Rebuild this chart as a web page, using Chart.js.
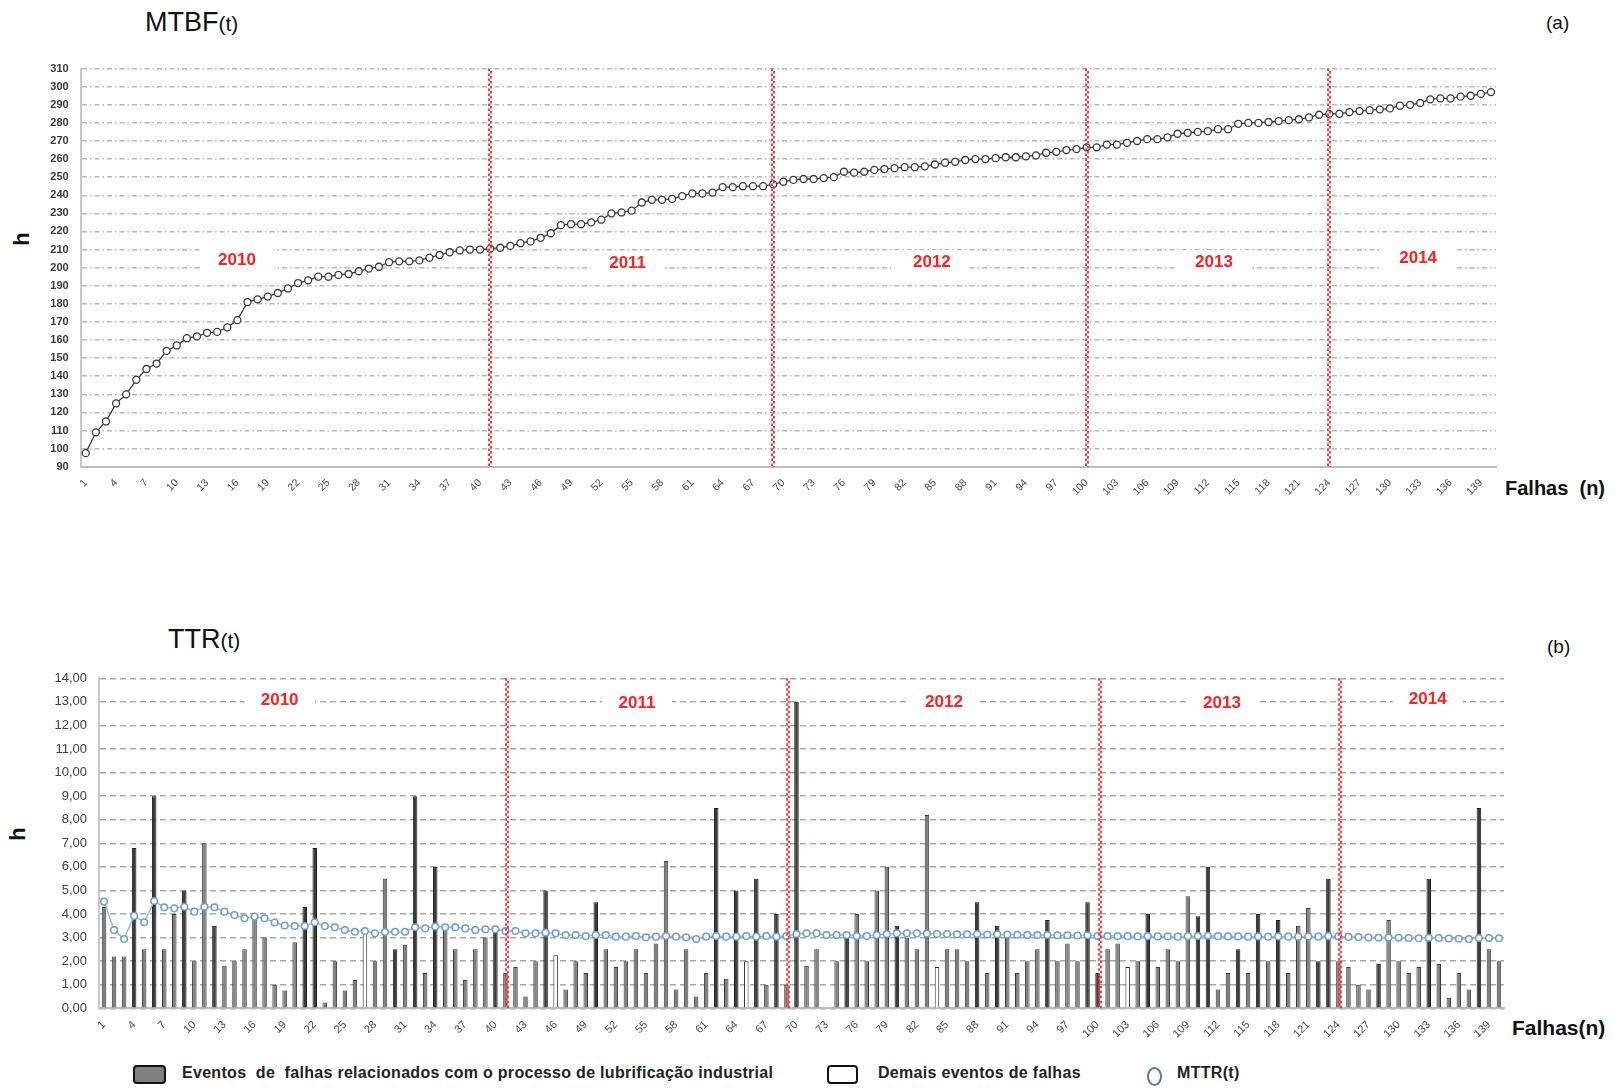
<!DOCTYPE html>
<html>
<head>
<meta charset="utf-8">
<script src="https://cdn.jsdelivr.net/npm/chart.js@4.4.1/dist/chart.umd.min.js"></script>
<style>
  body { margin: 0; background: #fff; width: 1623px; height: 1088px; position: relative; overflow: hidden;
         font-family: "Liberation Sans", Arial, sans-serif; color: #111; }
  .abs { position: absolute; white-space: nowrap; line-height: 1; }
  #grafMtbf { position: absolute; left: 0; top: 50px; }
  #grafTtr { position: absolute; left: 0; top: 640px; }
  .titulo { font-size: 27px; }
  .titulo small { font-size: 21px; }
  .letra { font-size: 19px; }
  .eixoH { font-size: 22px; font-weight: bold; transform: rotate(-90deg); }
  .eixoX { font-weight: bold; }
  .leg { font-size: 16px; font-weight: bold; color: #222; letter-spacing: 0.3px; }
  .caixa { position: absolute; border: 2px solid #111; border-radius: 4px; }
</style>
</head>
<body>
<div class="abs titulo" style="left:145px; top:9px;">MTBF<small>(t)</small></div>
<div class="abs letra" style="left:1546px; top:13px;">(a)</div>
<div class="abs eixoH" style="left:15px; top:228px;">h</div>
<div class="abs eixoX" style="left:1505px; top:478px; font-size:20px;">Falhas&nbsp; (n)</div>
<canvas id="grafMtbf" width="1623" height="470"></canvas>

<div class="abs titulo" style="left:168px; top:626px;">TTR<small>(t)</small></div>
<div class="abs letra" style="left:1547px; top:637px;">(b)</div>
<div class="abs eixoH" style="left:11px; top:823px;">h</div>
<div class="abs eixoX" style="left:1512px; top:1017px; font-size:21px;">Falhas(n)</div>
<canvas id="grafTtr" width="1623" height="420"></canvas>

<div class="caixa" style="left:133px; top:1065px; width:29px; height:15px; background:#808080;"></div>
<div class="abs leg" style="left:182px; top:1065px;">Eventos&nbsp; de&nbsp; falhas relacionados com o processo de lubrificação industrial</div>
<div class="caixa" style="left:827px; top:1065px; width:27px; height:15px; background:#fff;"></div>
<div class="abs leg" style="left:878px; top:1065px;">Demais eventos de falhas</div>
<div class="abs" style="left:1147px; top:1067px; width:11px; height:15px; border:2.5px solid #4a7ebb; border-radius:50%;"></div>
<div class="abs leg" style="left:1177px; top:1065px;">MTTR(t)</div>

<script>
// numero da falha (n) = categorias dos dois graficos
const falhas = Array.from({ length: 140 }, (_, i) => String(i + 1));

const anos = ['2010', '2011', '2012', '2013', '2014'];
// falha em que comeca cada novo ano (linhas vermelhas)
const inicioAno = [41, 69, 100, 124];

// MTBF(t) em horas (a)
const mtbf = [
  97.5, 109, 115, 125, 130, 138, 144, 147, 154, 157,
  161, 162, 164, 164.5, 167, 171, 181, 182.5, 184, 186,
  188.5, 191.5, 193, 195, 195, 196, 196.5, 198, 199.5, 200.5,
  203, 203.5, 203.5, 204, 205.5, 207, 208.5, 209.5, 210, 210,
  210.5, 211, 212, 213.5, 214.5, 216.5, 219, 223.5, 224, 224,
  225, 226.5, 230, 230.5, 231.5, 236, 237.5, 237.5, 238, 239.5,
  241, 241, 241.5, 244.5, 244.5, 245, 245, 245, 246, 247.5,
  248.5, 249, 249, 249.5, 250, 253, 252.5, 253, 254, 254.5,
  255, 255.5, 255.5, 256, 257, 258, 258.5, 259.5, 260, 260,
  260.5, 261, 261, 261.5, 262, 263.5, 264, 265, 265.5, 266.5,
  266.5, 268, 268, 269, 270, 271, 271, 272, 274, 274.5,
  275, 275.5, 276.5, 276.5, 279.5, 280, 280, 280.5, 281, 281.5,
  282, 283, 284.5, 285, 285, 286, 286.5, 287, 287.5, 288,
  289.5, 290, 291, 293, 293.5, 293.5, 294.5, 295, 296, 297
];

// TTR(t) em horas (b)
const ttr = [
  4.3, 2.2, 2.2, 6.8, 2.5, 9.0, 2.5, 4.0, 5.0, 2.0,
  7.0, 3.5, 1.8, 2.0, 2.5, 4.0, 3.0, 1.0, 0.75, 2.8,
  4.3, 6.8, 0.25, 2.0, 0.75, 1.2, 3.3, 2.0, 5.5, 2.5,
  2.7, 9.0, 1.5, 6.0, 3.3, 2.5, 1.2, 2.5, 3.0, 3.2,
  1.5, 1.75, 0.5, 2.0, 5.0, 2.25, 0.8, 2.0, 1.5, 4.5,
  2.5, 1.75, 2.0, 2.5, 1.5, 2.75, 6.25, 0.8, 2.5, 0.5,
  1.5, 8.5, 1.25, 5.0, 2.0, 5.5, 1.0, 4.0, 1.0, 13.0,
  1.8, 2.5, 0, 2.0, 3.0, 4.0, 2.0, 5.0, 6.0, 3.5,
  3.0, 2.5, 8.2, 1.75, 2.5, 2.5, 2.0, 4.5, 1.5, 3.5,
  3.0, 1.5, 2.0, 2.5, 3.75, 2.0, 2.75, 2.0, 4.5, 1.5,
  2.5, 2.75, 1.75, 2.0, 4.0, 1.75, 2.5, 2.0, 4.75, 3.9,
  6.0, 0.8, 1.5, 2.5, 1.5, 4.0, 2.0, 3.75, 1.5, 3.5,
  4.25, 2.0, 5.5, 2.0, 1.75, 1.0, 0.8, 1.88, 3.75, 2.0,
  1.5, 1.75, 5.5, 1.88, 0.45, 1.5, 0.8, 8.5, 2.5, 2.0
];

// tipo de evento: 'L' lubrificacao (barra escura no original), 'l' lubrificacao (barra cinza), 'D' demais eventos
const tipo = [
  'l','l','l','L','l','L','l','l','L','l',
  'l','L','l','l','l','l','l','l','l','l',
  'L','L','l','l','l','l','D','l','l','L',
  'l','L','l','L','l','l','l','l','l','L',
  'l','l','l','l','L','D','l','l','l','L',
  'l','l','l','l','l','l','l','l','l','l',
  'l','L','l','L','D','L','l','L','l','L',
  'l','l','l','l','L','l','l','l','l','L',
  'l','l','l','D','l','l','l','L','l','L',
  'l','l','l','l','L','l','l','l','L','L',
  'l','l','D','l','L','l','l','l','l','L',
  'L','l','l','L','l','L','l','L','l','l',
  'l','L','L','l','l','l','l','L','l','l',
  'l','l','L','l','l','l','l','L','l','l'
];

// MTTR(t) em horas (b)
const mttr = [
  4.53, 3.32, 2.94, 3.92, 3.65, 4.55, 4.29, 4.24, 4.31, 4.10,
  4.31, 4.29, 4.10, 3.96, 3.82, 3.89, 3.82, 3.64, 3.51, 3.49,
  3.49, 3.65, 3.49, 3.44, 3.32, 3.25, 3.28, 3.18, 3.24, 3.25,
  3.25, 3.44, 3.39, 3.47, 3.44, 3.44, 3.39, 3.32, 3.35, 3.35,
  3.28, 3.28, 3.18, 3.18, 3.21, 3.18, 3.11, 3.11, 3.07, 3.11,
  3.11, 3.04, 3.04, 3.07, 3.01, 3.04, 3.07, 3.04, 3.01, 2.94,
  3.04, 3.07, 3.04, 3.04, 3.07, 3.04, 3.07, 3.04, 3.07, 3.15,
  3.18, 3.18, 3.11, 3.11, 3.11, 3.07, 3.07, 3.11, 3.15, 3.18,
  3.18, 3.18, 3.17, 3.15, 3.15, 3.14, 3.14, 3.15, 3.13, 3.14,
  3.13, 3.12, 3.11, 3.11, 3.11, 3.10, 3.10, 3.09, 3.10, 3.07,
  3.07, 3.07, 3.06, 3.05, 3.06, 3.05, 3.05, 3.04, 3.06, 3.07,
  3.08, 3.06, 3.05, 3.05, 3.04, 3.05, 3.04, 3.05, 3.04, 3.04,
  3.05, 3.04, 3.06, 3.05, 3.03, 3.02, 3.00, 2.99, 3.00, 2.99,
  2.98, 2.97, 2.99, 2.98, 2.96, 2.95, 2.94, 2.98, 2.98, 2.97
];

const fonte = '"Liberation Sans", Arial, sans-serif';

// rotulos dos anos e linhas vermelhas de separacao
const anotacoes = {
  id: 'anotacoes',
  beforeDatasetsDraw(chart, args, opts) {
    const { ctx, scales: { x, y } } = chart;
    ctx.save();
    ctx.font = 'bold 17px ' + fonte;
    ctx.textAlign = 'center';
    ctx.textBaseline = 'middle';
    opts.rotulos.forEach((r, i) => {
      const px = x.getPixelForValue(r[0]);
      const py = y.getPixelForValue(r[1]);
      ctx.fillStyle = '#fff';
      ctx.fillRect(px - opts.caixa[0] / 2, py - opts.caixa[1] / 2, opts.caixa[0], opts.caixa[1]);
      ctx.fillStyle = '#ff2020';
      ctx.fillText(anos[i], px, py);
    });
    ctx.restore();
  },
  afterDatasetsDraw(chart, args, opts) {
    const { ctx, chartArea, scales: { x } } = chart;
    ctx.save();
    ctx.strokeStyle = 'rgba(255, 45, 45, 0.95)';
    ctx.lineWidth = 2;
    inicioAno.forEach(n => {
      const px = Math.round(x.getPixelForValue(n - 1 + opts.desvio));
      // duas colunas pontilhadas desencontradas, como no original
      [[-1, 0], [1, 2.5]].forEach(([dx, off]) => {
        ctx.setLineDash([2.5, 2.5]);
        ctx.lineDashOffset = off;
        ctx.beginPath();
        ctx.moveTo(px + dx, chartArea.top);
        ctx.lineTo(px + dx, chartArea.bottom);
        ctx.stroke();
      });
    });
    ctx.restore();
  }
};

function ticksX(tamanho) {
  return {
    autoSkip: false,
    minRotation: 45,
    maxRotation: 45,
    padding: 2,
    color: '#4a4a4a',
    font: { family: fonte, size: tamanho },
    callback: function (v, i) { return i % 3 === 0 ? this.getLabelForValue(v) : ''; }
  };
}

new Chart(document.getElementById('grafMtbf'), {
  type: 'line',
  data: {
    labels: falhas,
    datasets: [{
      label: 'MTBF(t)',
      data: mtbf,
      borderColor: '#3a3a3a',
      borderWidth: 1.3,
      pointRadius: 3.5,
      pointBackgroundColor: '#fff',
      pointBorderColor: '#3a3a3a',
      pointBorderWidth: 1.3,
      tension: 0
    }]
  },
  options: {
    responsive: false,
    animation: false,
    layout: { padding: { top: 16, right: 127, bottom: 3.3, left: 0 } },
    plugins: {
      legend: { display: false },
      tooltip: { enabled: false },
      anotacoes: {
        desvio: 0,
        caixa: [74, 24],
        rotulos: [[14.96, 204], [53.6, 202.5], [83.7, 203], [111.6, 203], [131.8, 205]]
      }
    },
    scales: {
      x: {
        offset: true,
        grid: { display: false },
        border: { display: true, color: '#bdbdbd', width: 2 },
        ticks: ticksX(10.5),
        afterFit: s => { s.height = 50; }
      },
      y: {
        min: 90,
        max: 310,
        grid: { color: '#b8b8b8', lineWidth: 1.5, drawTicks: false },
        border: { display: true, color: '#c8c8c8', width: 2, dash: [5, 3, 1.5, 3] },
        ticks: { stepSize: 10, padding: 12, color: '#3a3a3a', font: { family: fonte, size: 11, weight: 'bold' } },
        afterFit: s => { s.width = 80.7; }
      }
    }
  },
  plugins: [anotacoes]
});

const corFundo = { L: '#3c3c3c', l: '#808080', D: '#ffffff' };
const corBorda = { L: '#1e1e1e', l: '#3a3a3a', D: '#2a2a2a' };

new Chart(document.getElementById('grafTtr'), {
  type: 'bar',
  data: {
    labels: falhas,
    datasets: [{
      type: 'line',
      label: 'MTTR(t)',
      data: mttr,
      order: 0,
      borderColor: '#95b7e0',
      borderWidth: 1.5,
      pointRadius: 3.3,
      pointBackgroundColor: '#fff',
      pointBorderColor: '#6f9bd3',
      pointBorderWidth: 1.5,
      tension: 0
    }, {
      label: 'Eventos de falhas relacionados com o processo de lubrificação industrial',
      data: ttr.map((v, i) => tipo[i] !== 'D' ? v : null),
      order: 1,
      grouped: false,
      categoryPercentage: 0.9,
      barPercentage: 0.5,
      backgroundColor: c => corFundo[tipo[c.dataIndex]],
      borderColor: c => corBorda[tipo[c.dataIndex]],
      borderWidth: 1
    }, {
      label: 'Demais eventos de falhas',
      data: ttr.map((v, i) => tipo[i] === 'D' ? v : null),
      order: 1,
      grouped: false,
      categoryPercentage: 0.9,
      barPercentage: 0.5,
      backgroundColor: corFundo.D,
      borderColor: corBorda.D,
      borderWidth: 1
    }]
  },
  options: {
    responsive: false,
    animation: false,
    layout: { padding: { top: 38.3, right: 119, bottom: 1.7, left: 0 } },
    plugins: {
      legend: { display: false },
      tooltip: { enabled: false },
      anotacoes: {
        desvio: 0.2,
        caixa: [70, 15],
        rotulos: [[17.5, 13.05], [53.1, 12.95], [83.7, 13.0], [111.4, 12.95], [131.9, 13.1]]
      }
    },
    scales: {
      x: {
        grid: { display: false },
        border: { display: true, color: '#bdbdbd', width: 2 },
        ticks: ticksX(11),
        afterFit: s => { s.height = 50; }
      },
      y: {
        min: 0,
        max: 14,
        grid: { color: '#a8a8a8', lineWidth: 1.5, drawTicks: false },
        border: { display: true, color: '#c8c8c8', width: 2, dash: [6, 4] },
        ticks: {
          stepSize: 1, padding: 12, color: '#404040', font: { family: fonte, size: 13 },
          callback: v => v.toFixed(2).replace('.', ',')
        },
        afterFit: s => { s.width = 99; }
      }
    }
  },
  plugins: [anotacoes]
});
</script>
</body>
</html>
